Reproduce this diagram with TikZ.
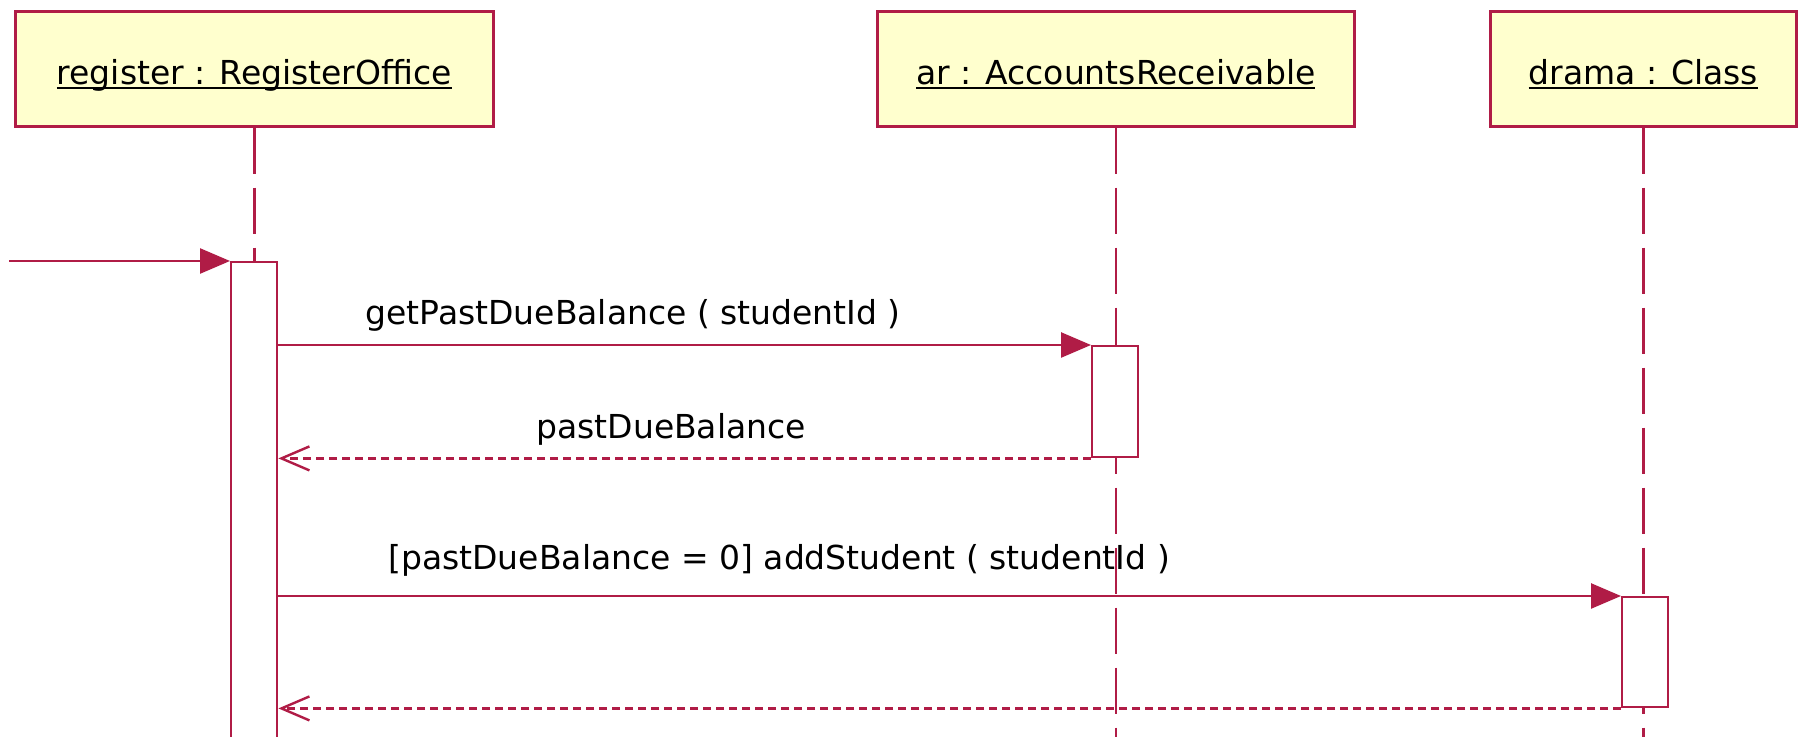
\documentclass[tikz,border=0pt]{standalone}
\usepackage{fontspec}
\setmainfont{DejaVu Sans}
\usetikzlibrary{arrows.meta}
\definecolor{umlred}{RGB}{176,28,70}
\definecolor{umlfill}{RGB}{255,255,206}
% underlined object name with the rule close under the baseline
\newcommand{\objname}[1]{\setbox0=\hbox{#1}\hbox{\rlap{\rule[-2.3pt]{\wd0}{0.9pt}}\box0}}
\begin{document}
\begin{tikzpicture}[x=0.5pt,y=-0.5pt,
  objbox/.style={draw=umlred, line width=1.3pt, fill=umlfill, rectangle, inner sep=0pt,
    anchor=north west, minimum height=57.5pt, text height=15.5pt, text depth=0pt,
    font=\fontsize{16.5}{18}\selectfont},
  actbox/.style={draw=umlred, line width=1.2pt, fill=white, rectangle, inner sep=0pt,
    anchor=north west, minimum width=23pt},
  lifeline/.style={draw=umlred, line width=1.3pt, dash pattern=on 23pt off 7pt},
  call/.style={draw=umlred, line width=1.3pt, -{Triangle[length=15pt,width=12.5pt]}},
  reply/.style={draw=umlred, line width=1.2pt, dash pattern=on 4pt off 2.5pt,
    -{Straight Barb[length=14pt,width=12pt]}},
  msglabel/.style={anchor=base west, inner sep=0pt, font=\fontsize{16.5}{18}\selectfont}
]
\useasboundingbox (0,0) rectangle (1801,737);
\clip (0,0) rectangle (1801,737);

% object heads
\node[objbox, minimum width=239pt] (reg) at (14,10) {\objname{register : RegisterOffice}};
\node[objbox, minimum width=238.5pt] (ar) at (876,10) {\objname{ar : AccountsReceivable}};
\node[objbox, minimum width=153pt] (drama) at (1489,10) {\objname{drama : Class}};

% lifelines
\coordinate (regEnd) at (reg.south |- 0,760);
\coordinate (arEnd) at (ar.south |- 0,760);
\coordinate (dramaEnd) at (drama.south |- 0,760);
\draw[lifeline] (reg.south) -- (regEnd);
\draw[lifeline] (ar.south) -- (arEnd);
\draw[lifeline] (drama.south) -- (dramaEnd);

% activations
\node[actbox, minimum height=260pt] (act0) at (230,261) {};
\node[actbox, minimum height=55.5pt] (act1) at (1091,345) {};
\node[actbox, minimum height=55pt] (act2) at (1621,596) {};

% messages
\coordinate (entry) at (9,261);
\draw[call] (entry) -- (act0.north west);

\draw[call] (act0.east |- act1.north) -- (act1.north west);
\node[msglabel] (m1) at (365,325) {getPastDueBalance ( studentId )};

\draw[reply] (act1.south west) -- (act0.east |- act1.south);
\node[msglabel] (m2) at (536,439) {pastDueBalance};

\draw[call] (act0.east |- act2.north) -- (act2.north west);
\node[msglabel] (m3) at (388,570) {[pastDueBalance = 0] addStudent ( studentId )};

\draw[reply] (act2.south west) -- (act0.east |- act2.south);
\end{tikzpicture}
\end{document}
